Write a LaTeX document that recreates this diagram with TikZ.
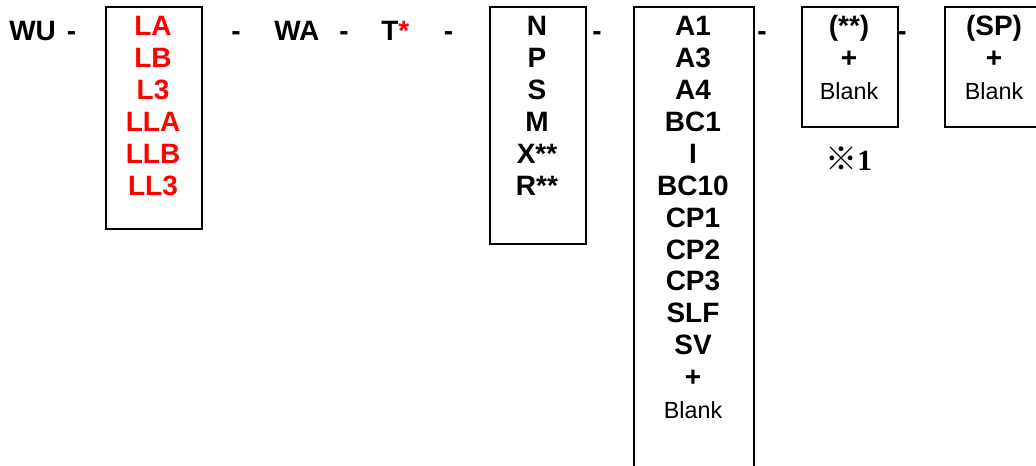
\documentclass[tikz,border=0pt]{standalone}
\usepackage{fontspec}
\setmainfont{Liberation Sans}
\newfontfamily\cjkfont{Noto Sans CJK JP}[BoldFont={Noto Sans CJK JP Bold}]
\newfontfamily\serifnum{Liberation Serif}
\definecolor{codered}{RGB}{255,0,0}
\begin{document}
\begin{tikzpicture}[x=0.75pt,y=-0.75pt,
  box/.style={draw,line width=1.5pt,inner sep=0pt,anchor=north west},
  bigtxt/.style={font=\fontsize{21}{24}\selectfont\bfseries,anchor=base,inner sep=0pt},
  smalltxt/.style={font=\fontsize{17.5}{21}\selectfont,anchor=base,inner sep=0pt},
  rowtxt/.style={font=\fontsize{21}{24}\selectfont\bfseries,anchor=base west,inner sep=0pt},
  dashtxt/.style={font=\fontsize{21}{24}\selectfont\bfseries,anchor=base,inner sep=0pt}]
\useasboundingbox (0,0) rectangle (1036,465);
% boxes
\node[box,minimum width=72.375pt,minimum height=166.5pt] (box1) at (104.5,6) {};
\node[box,minimum width=72pt,minimum height=177.75pt] (box2) at (489,6) {};
\node[box,minimum width=90pt,minimum height=355.5pt] (box3) at (633,6) {};
\node[box,minimum width=72pt,minimum height=90pt] (box4) at (801,6) {};
\node[box,minimum width=79.5pt,minimum height=90pt] (box5) at (944,6) {};
% top row
\node[rowtxt] (wu) at (9,40.5) {WU};
\node[dashtxt] (d1) at (71.5,40.5) {-};
\node[dashtxt] (d2) at (236,40.5) {-};
\node[rowtxt] (wa) at (274,40.5) {WA};
\node[dashtxt] (d3) at (344,40.5) {-};
\node[rowtxt] (t) at (381,40.5) {T\textcolor{codered}{*}};
\node[dashtxt] (d4) at (448.5,40.5) {-};
\node[dashtxt] (d5) at (597,40.5) {-};
\node[dashtxt] (d6) at (762,40.5) {-};
\node[dashtxt] (d7) at (902,40.5) {-};
% box 1
\foreach \t [count=\i from 0] in {LA,LB,L3,LLA,LLB,LL3}
  \node[bigtxt,text=codered] (b1-\i) at (153,35.7+31.9*\i) {\t};
% box 2
\foreach \t [count=\i from 0] in {N,P,S,M,X**,R**}
  \node[bigtxt] (b2-\i) at (537,35.7+31.9*\i) {\t};
% box 3
\foreach \t [count=\i from 0] in {A1,A3,A4,BC1,I,BC10,CP1,CP2,CP3,SLF,SV,+}
  \node[bigtxt] (b3-\i) at (693,35.7+31.9*\i) {\t};
\node[smalltxt] (b3-blank) at (693,35.7+31.9*12) {Blank};
% box 4
\node[bigtxt] (b4-0) at (849,35.7) {(**)};
\node[bigtxt] (b4-1) at (849,35.7+31.9) {+};
\node[smalltxt] (b4-2) at (849,35.7+63.8) {Blank};
% box 5
\node[bigtxt] (b5-0) at (994,35.7) {(SP)};
\node[bigtxt] (b5-1) at (994,35.7+31.9) {+};
\node[smalltxt] (b5-2) at (994,35.7+63.8) {Blank};
% note
\node[anchor=base west,inner sep=0pt] (note) at (825,170)
  {{\cjkfont\bfseries\fontsize{24}{26}\selectfont ※}{\serifnum\bfseries\fontsize{22}{26}\selectfont 1}};
\end{tikzpicture}
\end{document}
